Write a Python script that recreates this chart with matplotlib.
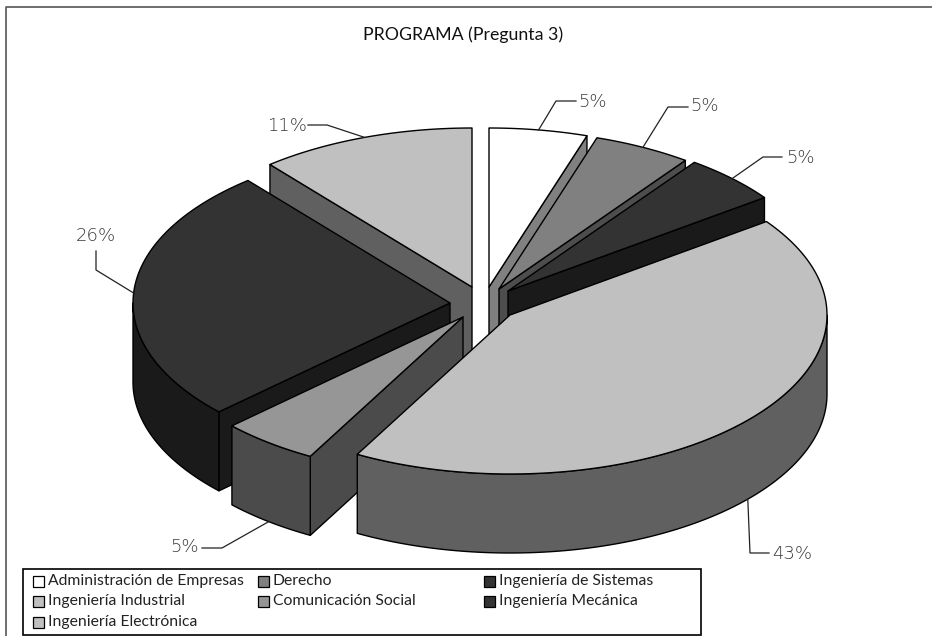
import numpy as np
import matplotlib
matplotlib.use("Agg")
import matplotlib.pyplot as plt
from matplotlib.patches import Polygon, Rectangle

# ---- data
programs = ["Administración de Empresas", "Derecho", "Ingeniería de Sistemas",
            "Ingeniería Industrial", "Comunicación Social", "Ingeniería Mecánica",
            "Ingeniería Electrónica"]
percent = [5, 5, 5, 43, 5, 26, 11]
title = "PROGRAMA (Pregunta 3)"

# ---- styles / layout (pixel units of the 932x636 canvas)
top_colors = ["#ffffff", "#808080", "#333333", "#c0c0c0", "#969696", "#333333", "#c0c0c0"]
wall_colors = ["#808080", "#4d4d4d", "#1a1a1a", "#606060", "#4b4b4b", "#1a1a1a", "#606060"]
apex_x = [489, 499, 508, 510, 463, 450, 472]
apex_y = [287, 289, 291, 315, 317, 303, 287]
RX, RY, DEPTH = 317, 159, 79
paint_order = [6, 0, 1, 2, 5, 4, 3]
elbow = [(556, 101), (668, 107), (763, 157), (750, 553), (222, 548), (96, 270), (327, 125)]
leader_end = [(576, 101), (688, 107), (782, 157), (769, 553), (202, 548), (96, 251), (308, 125)]
label_pos = [(593, 102), (704, 106), (800, 158), (792, 554), (185, 547), (96, 236), (287, 126)]
FONT = "Lato"
TXT = "#222222"

fig = plt.figure(figsize=(9.32, 6.36), dpi=100, facecolor="white")
ax = fig.add_axes([0, 0, 1, 1])
ax.set_xlim(0, 932)
ax.set_ylim(636, 0)
ax.axis("off")

# outer chart frame (top and left are the visible sides)
ax.plot([6, 6, 932], [636, 7, 7], color="#555555", lw=1.2, zorder=1)
ax.text(463, 35, title, ha="center", va="center", fontsize=12.8, family=FONT, color="#111111")


def ell(cx, cy, deg):
    t = np.radians(deg)
    return cx + RX * np.sin(t), cy - RY * np.cos(t)


frac = np.array(percent) / sum(percent) * 360
ends = np.cumsum(frac)
starts = ends - frac
z = 2
kw = dict(edgecolor="black", lw=1.0, joinstyle="round")
for i in paint_order:
    cx, cy = apex_x[i], apex_y[i]
    a, b = starts[i], ends[i]
    # radial cut faces that look towards the viewer
    for ang, vis in ((a, np.sin(np.radians(a)) < -1e-6), (b, np.sin(np.radians(b)) > 1e-6)):
        if vis:
            x, y = ell(cx, cy, ang)
            ax.add_patch(Polygon([(cx, cy), (x, y), (x, y + DEPTH), (cx, cy + DEPTH)],
                                 facecolor=wall_colors[i], zorder=z, **kw))
            z += 1
    # outer rim
    lo, hi = max(a, 90), min(b, 270)
    if hi > lo:
        th = np.linspace(lo, hi, 120)
        x, y = ell(cx, cy, th)
        pts = np.r_[np.c_[x, y], np.c_[x[::-1], y[::-1] + DEPTH]]
        ax.add_patch(Polygon(pts, facecolor=wall_colors[i], zorder=z, **kw))
        z += 1
    # top face
    th = np.linspace(a, b, 120)
    x, y = ell(cx, cy, th)
    ax.add_patch(Polygon(np.r_[[(cx, cy)], np.c_[x, y]], facecolor=top_colors[i], zorder=z, **kw))
    z += 1

# percentage labels with leader lines anchored on the slice's mid angle
for i, p in enumerate(percent):
    mid = (starts[i] + ends[i]) / 2
    x, y = ell(apex_x[i], apex_y[i], mid)
    if 90 < mid < 270:
        y += DEPTH
    ax.plot([x, elbow[i][0], leader_end[i][0]], [y, elbow[i][1], leader_end[i][1]],
            color="#222222", lw=0.9, zorder=z)
    ax.text(*label_pos[i], f"{p}%", ha="center", va="center", fontsize=13,
            family="DejaVu Sans", fontweight="light", color="#3a3a3a", zorder=z)

# legend box (rows are filled left to right)
ax.add_patch(Rectangle((23, 569), 678, 66, facecolor="white", edgecolor="black", lw=1.2, zorder=z))
col_x = [33, 258, 484]
row_y = [581, 601, 622]
for i, name in enumerate(programs):
    xx, yy = col_x[i % 3], row_y[i // 3]
    ax.add_patch(Rectangle((xx, yy - 5.5), 11, 11, facecolor=top_colors[i], edgecolor="black",
                           lw=0.9, zorder=z + 1))
    ax.text(xx + 15, yy, name, ha="left", va="center", fontsize=11.3, family=FONT, color=TXT, zorder=z + 1)

fig.savefig("out.png", dpi=100)
